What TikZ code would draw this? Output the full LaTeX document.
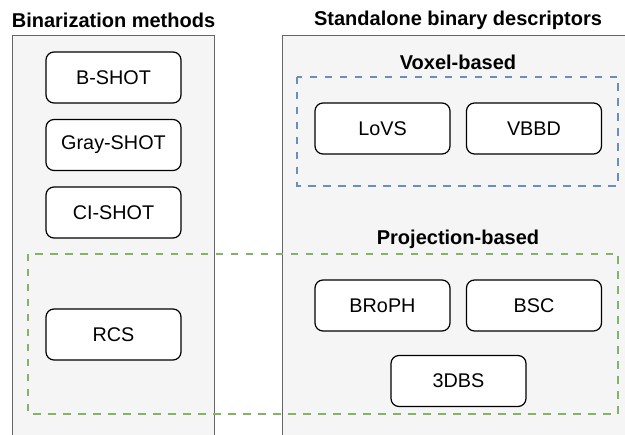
\documentclass[tikz,border=0pt]{standalone}
\usepackage{fontspec}
\setmainfont{Liberation Sans}
\definecolor{panelfill}{HTML}{F5F5F5}
\definecolor{panelline}{HTML}{666666}
\definecolor{voxblue}{HTML}{6C8EBF}
\definecolor{projgreen}{HTML}{82B366}
\begin{document}
\begin{tikzpicture}[x=1pt,y=-1pt,
  panel/.style={draw=panelline,fill=panelfill,line width=1pt},
  item/.style={draw=black,fill=white,rounded corners=8pt,line width=1.2pt,
    minimum width=135pt,minimum height=51pt,inner sep=0pt,
    font=\fontsize{19.8}{23}\selectfont},
  title/.style={font=\fontsize{20}{24}\bfseries\selectfont,inner sep=0pt},
  group/.style={dash pattern=on 7.5pt off 7.5pt,line width=2.3pt}]
\useasboundingbox (0,0) rectangle (625,435);
\clip (0,0) rectangle (625,435);
\fill[white] (0,0) rectangle (625,435);
% panels
\draw[panel] (12.5,36) rectangle (214,445);
\draw[panel] (282,36) rectangle (640,445);
\node[title] (t1) at (113.5,20) {Binarization methods};
\node[title] (t2) at (458,20) {Standalone binary descriptors};
% voxel group
\node[title] (tv) at (458,62) {Voxel-based};
\draw[group,draw=voxblue] (297,77) rectangle (618,186);
\node[item] (lovs) at (382.5,128.5) {LoVS};
\node[item] (vbbd) at (534,128.5) {VBBD};
% projection group
\node[title] (tp) at (458,239) {Projection-based};
\node[item] (broph) at (382.5,305.5) {BRoPH};
\node[item] (bsc) at (534,305.5) {BSC};
\node[item] (dbs) at (458.5,381) {3DBS};
% binarization methods
\node[item] (bshot) at (113.5,77.5) {B-SHOT};
\node[item] (gshot) at (113.5,145) {Gray-SHOT};
\node[item] (cshot) at (113.5,212.5) {CI-SHOT};
\node[item] (rcs) at (113.5,334.5) {RCS};
\draw[group,draw=projgreen] (28,254) rectangle (618,414);
\end{tikzpicture}
\end{document}
